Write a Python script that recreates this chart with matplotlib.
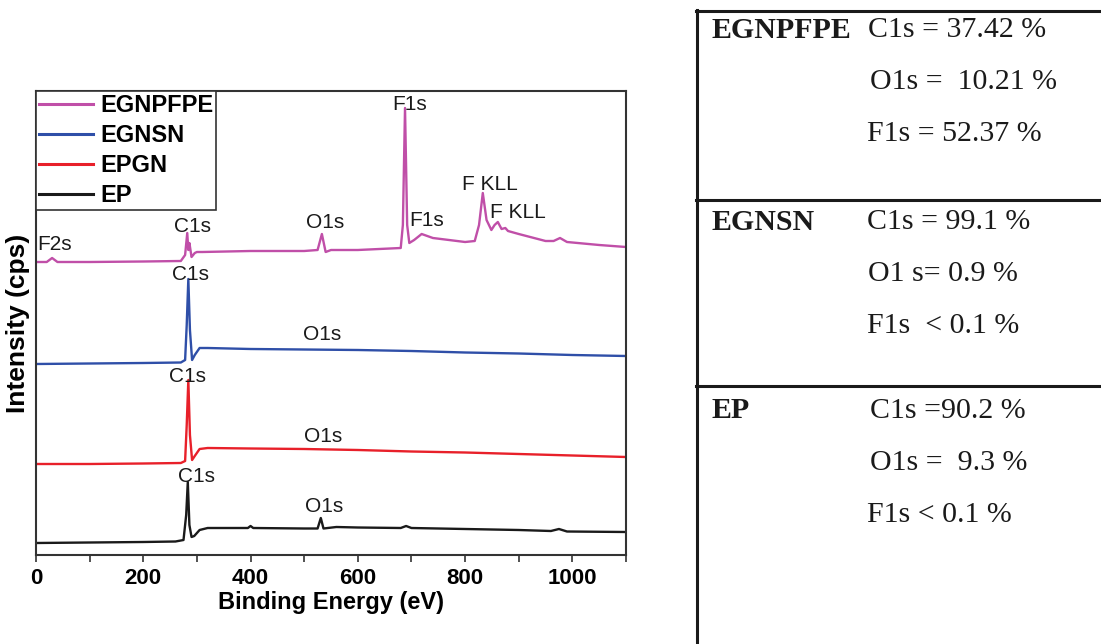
import matplotlib
matplotlib.use("Agg")
import matplotlib.pyplot as plt
from matplotlib.lines import Line2D
from matplotlib.ticker import MultipleLocator

# ---------------- data (arbitrary intensity units) ----------------
series_names = ["EGNPFPE", "EGNSN", "EPGN", "EP"]
series_colors = ["#C04FA8", "#2F4FA8", "#E8202A", "#1A1A1A"]

ep_E = [0, 100, 200, 260, 275, 280, 283, 286, 290, 295, 305, 320, 395, 400, 405, 500, 525, 531,
        536, 560, 600, 680, 690, 700, 800, 900, 960, 975, 990, 1100]
ep_I = [12, 12.5, 13, 13.5, 15, 40, 73, 30, 18, 19, 25, 27, 27, 29, 27, 26.5, 26.5, 37,
        26.5, 28, 27.5, 27, 29, 27, 26, 25, 24, 26, 23.5, 23]

epgn_E = [0, 100, 200, 270, 278, 281, 284, 287, 291, 296, 305, 320, 400, 500, 600, 700, 800,
          900, 1000, 1100]
epgn_I = [91, 91, 91.5, 92, 94, 130, 175, 120, 95, 99, 106, 107, 106.5, 106, 105, 103.5, 102.5,
          101, 99.5, 98]

egnsn_E = [0, 100, 200, 270, 278, 281, 284, 287, 291, 296, 305, 320, 400, 500, 600, 700, 800,
           900, 1000, 1100]
egnsn_I = [191, 191.5, 192, 192.5, 195, 230, 276, 225, 195, 200, 207, 207, 206, 205.5, 205,
           204, 202.5, 201.5, 200, 199]

egnpfpe_E = [0, 20, 30, 40, 100, 200, 270, 278, 282, 284, 286, 288, 290, 293, 296, 300, 310,
             400, 500, 525, 533, 540, 550, 600, 680, 684, 688, 692, 696, 705, 719, 740, 800,
             818, 826, 833, 840, 849, 855, 861, 868, 875, 880, 900, 950, 965, 977, 990, 1050,
             1100]
egnpfpe_I = [293, 293, 297, 293, 293, 293.5, 294, 300, 322, 305, 312, 305, 298, 300, 302, 303,
             303, 304, 304, 305, 321, 303, 305, 305, 307, 330, 447, 330, 312, 315, 321, 317,
             313, 314, 330, 362, 335, 325, 330, 333, 326, 327, 324, 321, 314, 314, 317, 313,
             310, 308]

# peak annotations: (text, energy, intensity)
peak_labels = [
    ("F2s", 35, 310), ("C1s", 291, 328), ("O1s", 539, 333), ("F1s", 697, 451),
    ("F1s", 729, 335), ("F KLL", 846, 370), ("F KLL", 899, 342),
    ("C1s", 288, 281), ("O1s", 533, 221),
    ("C1s", 282, 179), ("O1s", 535, 118),
    ("C1s", 300, 78), ("O1s", 538, 49),
]

x_ticks = [0, 200, 400, 600, 800, 1000]

# composition table
table_samples = ["EGNPFPE", "EGNSN", "EP"]
table_lines = [
    ["C1s = 37.42 %", "O1s =  10.21 %", "F1s = 52.37 %"],
    ["C1s = 99.1 %", "O1 s= 0.9 %", "F1s  < 0.1 %"],
    ["C1s =90.2 %", "O1s =  9.3 %", "F1s < 0.1 %"],
]

# ---------------- figure ----------------
W, H = 1101, 644
fig = plt.figure(figsize=(W / 100, H / 100), dpi=100)

def fx(px):
    return px / W

def fy(py):
    return 1 - py / H

ax = fig.add_axes([fx(36), fy(555), fx(626) - fx(36), fy(91) - fy(555)])

all_E = [egnpfpe_E, egnsn_E, epgn_E, ep_E]
all_I = [egnpfpe_I, egnsn_I, epgn_I, ep_I]
for name, col, E, I in zip(series_names, series_colors, all_E, all_I):
    ax.plot(E, I, color=col, lw=1.7, label=name)

for txt, e, i in peak_labels:
    ax.text(e, i, txt, ha="center", va="center", fontsize=15,
            family="Liberation Sans", color="#1a1a1a")

ax.set_xlim(0, 1100)
ax.set_ylim(0, 464)
ax.set_xticks(x_ticks)
ax.xaxis.set_minor_locator(MultipleLocator(100))
ax.set_yticks([])
ax.tick_params(axis="x", which="both", direction="out", length=5, width=1.2, color="#333333")
ax.tick_params(axis="x", which="major", labelsize=16, pad=4)
for lab in ax.get_xticklabels():
    lab.set_fontweight("bold")
    lab.set_family("Liberation Sans")
for sp in ax.spines.values():
    sp.set_linewidth(1.5)
    sp.set_color("#333333")

ax.set_xlabel("Binding Energy (eV)", fontsize=17, fontweight="bold",
              family="Liberation Sans", labelpad=2)
ax.set_ylabel("Intensity (cps)", fontsize=19, fontweight="bold",
              family="Liberation Sans", labelpad=4)

leg = ax.legend(loc="upper left", bbox_to_anchor=(0, 1), borderaxespad=0,
                prop={"family": "Liberation Sans", "weight": "bold", "size": 17},
                handlelength=2.3, handletextpad=0.3, borderpad=0.12,
                labelspacing=0.3, fancybox=False, framealpha=1, edgecolor="#333333")
leg.get_frame().set_linewidth(1.2)
for h in leg.get_lines():
    h.set_linewidth(2.2)

# ---------------- composition table ----------------
lw_tab = 2.2
fig.add_artist(Line2D([fx(697), fx(697)], [fy(10), fy(644)], color="#1a1a1a", lw=lw_tab))
for yy in [11, 200, 386]:
    fig.add_artist(Line2D([fx(696), fx(1101)], [fy(yy), fy(yy)], color="#1a1a1a", lw=lw_tab))

sample_y = [30, 222, 411]
row_dy = [0, 52, 104]
val_x = [[868, 870, 867], [867, 868, 867], [870, 870, 867]]
for s, name in enumerate(table_samples):
    fig.text(fx(712), fy(sample_y[s]), name, ha="left", va="center", fontsize=21.5,
             fontweight="bold", family="Liberation Serif", color="#1a1a1a")
    for r, line in enumerate(table_lines[s]):
        fig.text(fx(val_x[s][r]), fy(sample_y[s] + row_dy[r]), line, ha="left", va="center",
                 fontsize=21.5, family="Liberation Serif", color="#1a1a1a")

fig.savefig("out.png", dpi=100)
